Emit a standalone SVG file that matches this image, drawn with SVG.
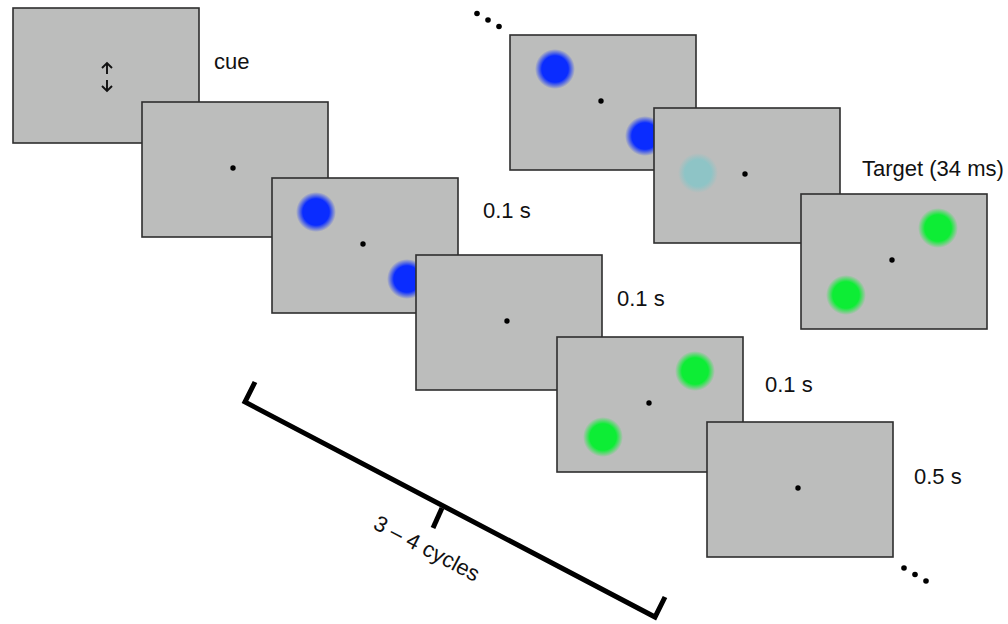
<svg xmlns="http://www.w3.org/2000/svg" width="1008" height="624" viewBox="0 0 1008 624">
<style>
.frame{fill:#bcbdbc;stroke:#2e2e2e;stroke-width:1.6}
.dot{fill:#000}
.lbl{font-family:"Liberation Sans",Arial,sans-serif;font-size:22px;fill:#111}
.br{fill:none;stroke:#000;stroke-width:5;stroke-linecap:butt;stroke-linejoin:miter}
.arr{fill:none;stroke:#111;stroke-width:1.9}
</style>
<defs>
<radialGradient id="gBlue"><stop offset="0.66" stop-color="#0a2cff"/><stop offset="1" stop-color="#0a2cff" stop-opacity="0"/></radialGradient>
<radialGradient id="gGreen"><stop offset="0.66" stop-color="#0ded35"/><stop offset="1" stop-color="#0ded35" stop-opacity="0"/></radialGradient>
<radialGradient id="gFade"><stop offset="0.66" stop-color="#8ec4c6"/><stop offset="1" stop-color="#8ec4c6" stop-opacity="0"/></radialGradient>
</defs>
<rect width="1008" height="624" fill="#fff"/>

<g id="frame-cue">
<rect class="frame" x="13" y="8" width="186" height="135"/>
<path class="arr" d="M107 63V74M102 68L107 63L112 68"/>
<path class="arr" d="M107 80V91M102 86L107 91L112 86"/>
</g>
<g id="frame-fix1">
<rect class="frame" x="142" y="102" width="186" height="135"/>
<circle class="dot" cx="233" cy="168" r="2.7"/>
</g>
<g id="frame-blue1">
<rect class="frame" x="272" y="178" width="186" height="135"/>
<circle cx="316" cy="212" r="20" fill="url(#gBlue)"/>
<circle class="dot" cx="363" cy="244" r="2.7"/>
<circle cx="407" cy="279" r="20" fill="url(#gBlue)"/>
</g>
<g id="frame-fix2">
<rect class="frame" x="416" y="255" width="186" height="135"/>
<circle class="dot" cx="507" cy="321" r="2.7"/>
</g>
<g id="frame-green1">
<rect class="frame" x="557" y="337" width="186" height="135"/>
<circle cx="695" cy="371" r="20" fill="url(#gGreen)"/>
<circle class="dot" cx="649" cy="403" r="2.7"/>
<circle cx="603" cy="437" r="20" fill="url(#gGreen)"/>
</g>
<g id="frame-fix3">
<rect class="frame" x="707" y="422" width="186" height="135"/>
<circle class="dot" cx="798" cy="488" r="2.7"/>
</g>

<g id="frame-blue2">
<rect class="frame" x="510" y="35" width="186" height="135"/>
<circle cx="555" cy="69" r="20" fill="url(#gBlue)"/>
<circle class="dot" cx="601" cy="101" r="2.7"/>
<circle cx="645" cy="136" r="20" fill="url(#gBlue)"/>
</g>
<g id="frame-fade">
<rect class="frame" x="654" y="108" width="186" height="135"/>
<circle cx="698" cy="173" r="20" fill="url(#gFade)"/>
<circle class="dot" cx="745" cy="174" r="2.7"/>
</g>
<g id="frame-target">
<rect class="frame" x="801" y="194" width="186" height="135"/>
<circle cx="938" cy="228" r="20" fill="url(#gGreen)"/>
<circle class="dot" cx="892" cy="260" r="2.7"/>
<circle cx="846" cy="295" r="20" fill="url(#gGreen)"/>
</g>

<g id="ellipsis-top">
<circle class="dot" cx="477" cy="13.5" r="2.8"/>
<circle class="dot" cx="488" cy="20" r="2.8"/>
<circle class="dot" cx="499" cy="26.5" r="2.8"/>
</g>
<g id="ellipsis-bottom">
<circle class="dot" cx="904" cy="568" r="2.8"/>
<circle class="dot" cx="915" cy="574.5" r="2.8"/>
<circle class="dot" cx="926" cy="581" r="2.8"/>
</g>

<g id="labels">
<text class="lbl" x="214" y="69">cue</text>
<text class="lbl" x="483" y="218">0.1 s</text>
<text class="lbl" x="617" y="306">0.1 s</text>
<text class="lbl" x="765" y="392">0.1 s</text>
<text class="lbl" x="914" y="484">0.5 s</text>
<text class="lbl" x="862" y="176">Target (34 ms)</text>
</g>

<g id="bracket">
<path class="br" d="M255 382L245 402L655 617L665 597"/>
<path class="br" d="M442 508L433 528"/>
<text class="lbl" x="372" y="528" transform="rotate(27.7 372 528)">3 – 4 cycles</text>
</g>
</svg>
